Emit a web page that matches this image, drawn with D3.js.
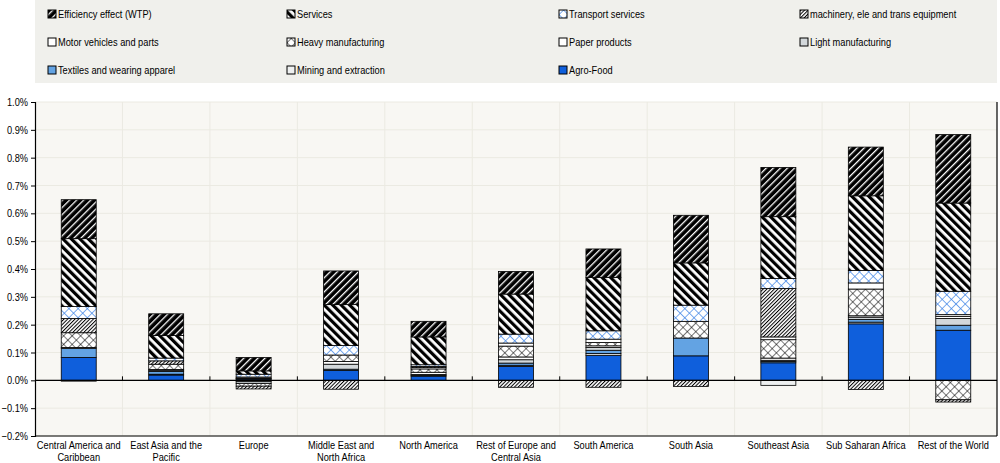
<!DOCTYPE html>
<html>
<head>
<meta charset="utf-8">
<script src="https://cdn.jsdelivr.net/npm/d3@7"></script>
<style>
  html, body { margin: 0; padding: 0; background: #ffffff; }
  svg { display: block; font-family: "Liberation Sans", Arial, sans-serif; }
</style>
</head>
<body>
<svg id="chart" width="1000" height="463"></svg>
<script>
// ---------------- DATA ----------------
const categories = [
  "Central America and Caribbean", "East Asia and the Pacific", "Europe",
  "Middle East and North Africa", "North America", "Rest of Europe and Central Asia",
  "South America", "South Asia", "Southeast Asia", "Sub Saharan Africa", "Rest of the World"
];
const categoryLines = [
  ["Central America and", "Caribbean"], ["East Asia and the", "Pacific"], ["Europe"],
  ["Middle East and", "North Africa"], ["North America"], ["Rest of Europe and", "Central Asia"],
  ["South America"], ["South Asia"], ["Southeast Asia"], ["Sub Saharan Africa"], ["Rest of the World"]
];
// series listed bottom-to-top of the stack (values in % points)
const seriesNames = [
  "Agro-Food", "Mining and extraction", "Textiles and wearing apparel", "Light manufacturing",
  "Paper products", "Heavy manufacturing", "Motor vehicles and parts",
  "machinery, ele and trans equipment", "Transport services", "Services", "Efficiency effect (WTP)"
];
const agroFood    = [0.082, 0.019, 0.004, 0.035, 0.015, 0.050, 0.090, 0.088, 0.063, 0.203, 0.180];
const mining      = [-0.003, 0.003, -0.005, 0.000, 0.000, 0.004, 0.006, 0.000, -0.018, 0.006, 0.000];
const textiles    = [0.033, 0.010, 0.002, 0.005, 0.003, 0.008, 0.012, 0.064, 0.005, 0.010, 0.018];
const lightManuf  = [0.000, 0.004, -0.006, 0.018, 0.003, 0.012, 0.010, 0.000, 0.004, 0.008, 0.024];
const paper       = [0.003, 0.003, 0.002, 0.010, 0.008, 0.010, 0.006, 0.000, 0.008, 0.005, 0.008];
const heavyManuf  = [0.053, 0.019, -0.010, 0.023, 0.012, 0.039, 0.012, 0.060, 0.066, 0.096, -0.070];
const motor       = [0.000, 0.000, 0.004, 0.000, 0.005, 0.011, 0.012, 0.000, 0.010, 0.022, 0.006];
const machinery   = [0.051, 0.012, -0.010, -0.032, 0.004, -0.025, -0.025, -0.022, 0.174, -0.033, -0.008];
const transport   = [0.043, 0.010, 0.010, 0.034, 0.006, 0.032, 0.030, 0.058, 0.036, 0.045, 0.084];
const services    = [0.244, 0.081, 0.012, 0.147, 0.100, 0.144, 0.192, 0.152, 0.222, 0.268, 0.317];
const efficiency  = [0.140, 0.078, 0.048, 0.121, 0.056, 0.081, 0.102, 0.171, 0.177, 0.175, 0.246];
const seriesValues = [agroFood, mining, textiles, lightManuf, paper, heavyManuf, motor,
                      machinery, transport, services, efficiency];
const yTicks = [-0.2, -0.1, 0.0, 0.1, 0.2, 0.3, 0.4, 0.5, 0.6, 0.7, 0.8, 0.9, 1.0];
// legend order (as shown, reading rows left to right)
const legendOrder = seriesNames.slice().reverse();

// ---------------- SETUP ----------------
const svg = d3.select("#chart");
const W = 1000, H = 463;
const margin = {left: 35, right: 3, top: 102, bottom: 27};
const plotL = margin.left, plotR = W - margin.right, plotT = margin.top, plotB = H - margin.bottom;
const NARROW = 0.84;

svg.append("rect").attr("width", W).attr("height", H).attr("fill", "#ffffff");

// patterns
const defs = svg.append("defs");
function stripePattern(id, size, angle, bg, fg, lineW) {
  const p = defs.append("pattern").attr("id", id).attr("patternUnits", "userSpaceOnUse")
    .attr("width", size).attr("height", size).attr("patternTransform", `rotate(${angle})`);
  p.append("rect").attr("width", size).attr("height", size).attr("fill", bg);
  p.append("rect").attr("x", 0).attr("y", 0).attr("width", lineW).attr("height", size).attr("fill", fg);
}
function crossPattern(id, size, color, sw) {
  const p = defs.append("pattern").attr("id", id).attr("patternUnits", "userSpaceOnUse")
    .attr("width", size).attr("height", size).attr("patternTransform", "rotate(45)");
  p.append("rect").attr("width", size).attr("height", size).attr("fill", "#ffffff");
  p.append("path").attr("d", `M0,0H${size}M0,0V${size}`).attr("stroke", color).attr("stroke-width", sw).attr("fill", "none");
}
stripePattern("pEff", 5, 45, "#000000", "#ffffff", 1.3);
stripePattern("pSrv", 6, -45, "#ffffff", "#000000", 3.2);
stripePattern("pMach", 2.6, 45, "#ffffff", "#000000", 1.0);
crossPattern("pHeavy", 6, "#000000", 1.1);
crossPattern("pTrans", 6.5, "#3b82e6", 1.3);

const fills = {
  "Agro-Food": "#0f5fdc",
  "Mining and extraction": "#eef0f0",
  "Textiles and wearing apparel": "#63a3e3",
  "Light manufacturing": "#d3d8db",
  "Paper products": "#ffffff",
  "Heavy manufacturing": "url(#pHeavy)",
  "Motor vehicles and parts": "#ffffff",
  "machinery, ele and trans equipment": "url(#pMach)",
  "Transport services": "url(#pTrans)",
  "Services": "url(#pSrv)",
  "Efficiency effect (WTP)": "url(#pEff)"
};

// ---------------- LEGEND ----------------
svg.append("rect").attr("x", plotL).attr("y", 0).attr("width", plotR - plotL).attr("height", 83)
  .attr("fill", "#f0f0ec");
const legCols = [48, 287, 559, 800];
const legRows = [14, 42, 70];
const leg = svg.append("g").selectAll("g").data(legendOrder).join("g")
  .attr("transform", (d, i) => `translate(${legCols[i % 4]},${legRows[Math.floor(i / 4)]})`);
leg.append("rect").attr("x", 0).attr("y", -4).attr("width", 8).attr("height", 8)
  .attr("fill", d => fills[d]).attr("stroke", "#000").attr("stroke-width", 1);
leg.append("text").attr("x", 10).attr("y", 0).attr("dy", "0.35em")
  .attr("font-size", 11).attr("fill", "#000").text(d => d);

// ---------------- PLOT ----------------
svg.append("rect").attr("x", plotL).attr("y", plotT).attr("width", plotR - plotL).attr("height", plotB - plotT)
  .attr("fill", "#f8f7f3");

const x = d3.scaleBand().domain(categories).range([plotL, plotR]).paddingInner(0.6).paddingOuter(0.3);
const xOuter = d3.scaleBand().domain(categories).range([plotL, plotR]);
const y = d3.scaleLinear().domain([-0.2, 1.0]).range([plotB, plotT]);

// gridlines
svg.append("g").selectAll("line").data(yTicks).join("line")
  .attr("x1", plotL).attr("x2", plotR).attr("y1", d => y(d)).attr("y2", d => y(d))
  .attr("stroke", "#ebeae2").attr("stroke-width", 1);
svg.append("g").selectAll("line").data(categories.slice(1)).join("line")
  .attr("x1", d => xOuter(d)).attr("x2", d => xOuter(d)).attr("y1", plotT).attr("y2", plotB)
  .attr("stroke", "#ebeae2").attr("stroke-width", 1);

// stack
const rows = categories.map((c, i) => {
  const r = {category: c};
  seriesNames.forEach((s, k) => r[s] = seriesValues[k][i]);
  return r;
});
const stacked = d3.stack().keys(seriesNames).offset(d3.stackOffsetDiverging)(rows);

const barsG = svg.append("g");
stacked.forEach(layer => {
  barsG.append("g").selectAll("rect").data(layer.filter(d => Math.abs(d[1] - d[0]) > 1e-9)).join("rect")
    .attr("x", d => x(d.data.category))
    .attr("width", x.bandwidth())
    .attr("y", d => y(Math.max(d[0], d[1])))
    .attr("height", d => Math.abs(y(d[0]) - y(d[1])))
    .attr("fill", fills[layer.key])
    .attr("stroke", "#000").attr("stroke-width", 0.8);
});

// y axis
const yAxis = d3.axisLeft(y).tickValues(yTicks).tickFormat(d => d3.format(".1f")(d) + "%").tickSize(4).tickPadding(3);
const yG = svg.append("g").attr("transform", `translate(${plotL},0)`).call(yAxis);
yG.attr("font-family", null).attr("font-size", null);
yG.select(".domain").attr("stroke", "#000").attr("stroke-width", 1.2);
yG.selectAll("text").attr("font-size", 11).attr("fill", "#000");

// zero axis line with ticks at category boundaries
svg.append("line").attr("x1", plotL).attr("x2", plotR).attr("y1", y(0)).attr("y2", y(0))
  .attr("stroke", "#000").attr("stroke-width", 1.3);
svg.append("g").selectAll("line").data(categories.slice(1)).join("line")
  .attr("x1", d => xOuter(d)).attr("x2", d => xOuter(d)).attr("y1", y(0)).attr("y2", y(0) - 4)
  .attr("stroke", "#000").attr("stroke-width", 1);

// frame bottom and right
svg.append("line").attr("x1", plotL).attr("x2", plotR).attr("y1", plotB).attr("y2", plotB)
  .attr("stroke", "#000").attr("stroke-width", 1.2);
svg.append("line").attr("x1", plotR).attr("x2", plotR).attr("y1", plotT).attr("y2", plotB)
  .attr("stroke", "#000").attr("stroke-width", 1.2);

// category labels
const xl = svg.append("g").selectAll("text").data(categories).join("text")
  .attr("x", d => xOuter(d) + xOuter.bandwidth() / 2)
  .attr("y", plotB + 13)
  .attr("text-anchor", "middle").attr("font-size", 11).attr("fill", "#000");
xl.each(function(d, i) {
  const t = d3.select(this);
  categoryLines[i].forEach((ln, j) => {
    t.append("tspan").attr("x", xOuter(d) + xOuter.bandwidth() / 2).attr("dy", j === 0 ? 0 : 12).text(ln);
  });
});

// condense all text (narrow face look)
svg.selectAll("text").each(function() {
  const el = this;
  const spans = el.querySelectorAll("tspan");
  const targets = spans.length ? Array.from(spans) : [el];
  targets.forEach(t => {
    const len = t.getComputedTextLength();
    t.setAttribute("textLength", (len * NARROW).toFixed(2));
    t.setAttribute("lengthAdjust", "spacingAndGlyphs");
  });
});
</script>
</body>
</html>
